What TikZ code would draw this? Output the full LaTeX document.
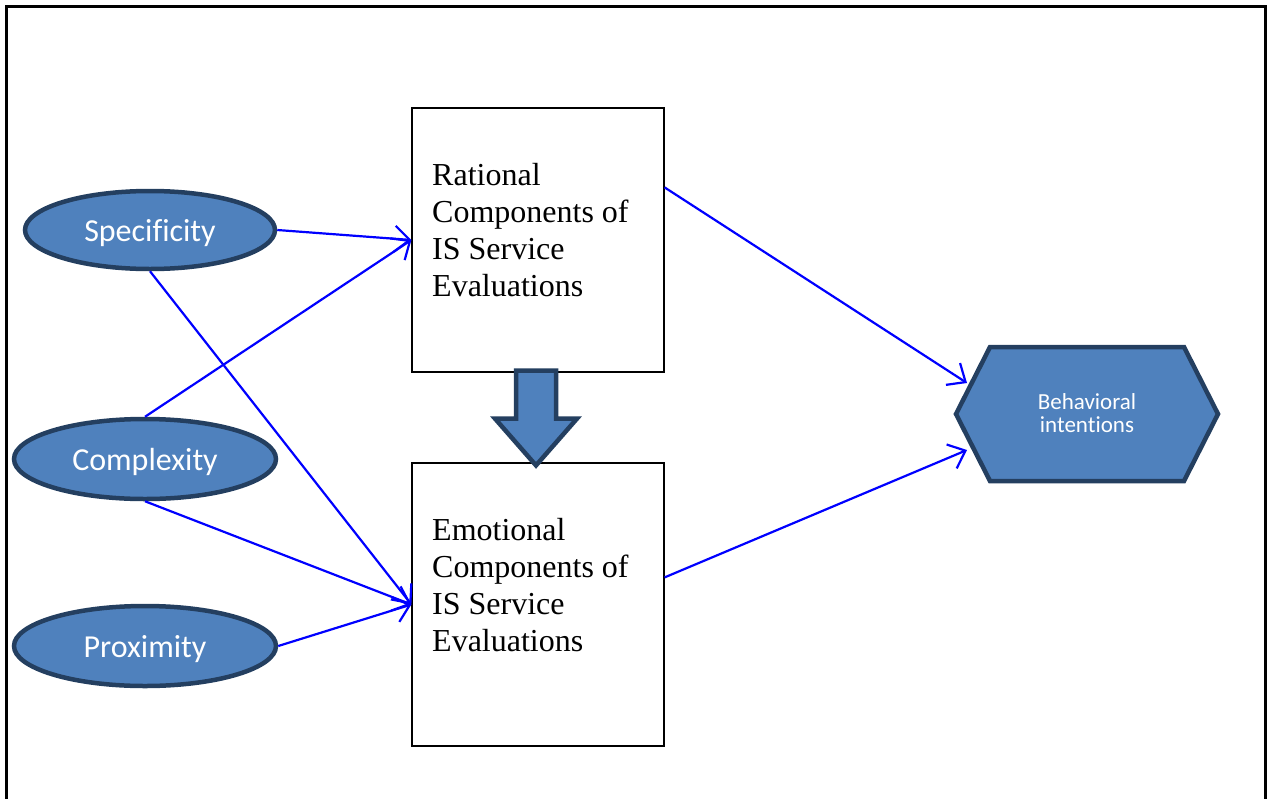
\documentclass[tikz,border=0pt]{standalone}
\usepackage{fontspec}
\setmainfont{Liberation Serif}
\newfontfamily\calibri[Ligatures=NoCommon]{Carlito}
\usetikzlibrary{arrows.meta,calc,shapes.geometric}
\definecolor{ovalfill}{HTML}{4F81BD}
\definecolor{ovalline}{HTML}{243F60}
\definecolor{linkblue}{HTML}{0000FF}

\begin{document}
\begin{tikzpicture}[x=1pt,y=-1pt,
  factor/.style={ellipse, draw=ovalline, line width=4.5pt, fill=ovalfill,
    text=white, font=\calibri\fontsize{32}{36}\selectfont, inner sep=0pt,
    text depth=0pt},
  evalbox/.style={rectangle, draw=black, line width=1.2pt, fill=white,
    minimum width=252pt, inner sep=0pt},
  evaltext/.style={anchor=north west, inner sep=0pt, align=left,
    font=\fontsize{32}{37}\selectfont},
  link/.style={draw=linkblue, line width=2.2pt,
    -{Straight Barb[length=15pt,width=26pt,line width=2.2pt]}},
  shape fill/.style={draw=ovalline, fill=ovalfill, line width=4.5pt, line join=miter}]

\useasboundingbox (0,0) rectangle (1269,798);

% outer frame (open at the bottom)
\draw[line width=2.5pt] (6.5,810) -- (6.5,6.5) -- (1265.5,6.5) -- (1265.5,810);

% evaluation boxes
\node[evalbox, minimum height=264pt] (R) at (538,240) {};
\node[evalbox, minimum height=283pt] (E) at (538,604.5) {};
\node[evaltext] (Rt) at (432,163) {Rational\\Components of\\IS Service\\Evaluations};
\node[evaltext] (Et) at (432,518) {Emotional\\Components of\\IS Service\\Evaluations};

% block arrow between the boxes
\draw[shape fill] ($(R.south)+(-22,-2)$) -- ++(40,0) -- ++(0,48) -- ++(21,0)
  -- ($(E.north)+(-2,3)$) -- ($(R.south)+(-43,46)$) -- ++(21,0) -- cycle;

% antecedents
\node[factor, minimum width=250pt, minimum height=78pt] (S) at (150,230) {Specificity};
\node[factor, minimum width=262pt, minimum height=80pt] (C) at (145,459) {Complexity};
\node[factor, minimum width=262pt, minimum height=80pt] (P) at (145,646) {Proximity};

% outcome hexagon
\coordinate (Hc) at (1087,414);
\draw[shape fill] ($(Hc)+(-131,0)$) -- ($(Hc)+(-97,-67)$) -- ($(Hc)+(97,-67)$)
  -- ($(Hc)+(131,0)$) -- ($(Hc)+(97,67)$) -- ($(Hc)+(-97,67)$) -- cycle;
\node[inner sep=0pt, text=white, align=center,
  font=\calibri\fontsize{23}{23}\selectfont] (H) at (1087,413) {Behavioral\\intentions};
\coordinate (Hin1) at (967,383);
\coordinate (Hin2) at (967,450);

% paths
\draw[link] (S.east) -- (R.west);
\draw[link] (C.north) -- (R.west);
\draw[link] (S.south) -- (E.west);
\draw[link] (C.south) -- (E.west);
\draw[link] (P.east) -- (E.west);
\draw[link] ($(R.north east)+(0,80)$) -- (Hin1);
\draw[link] ($(E.north east)+(0,115)$) -- (Hin2);
\end{tikzpicture}
\end{document}
